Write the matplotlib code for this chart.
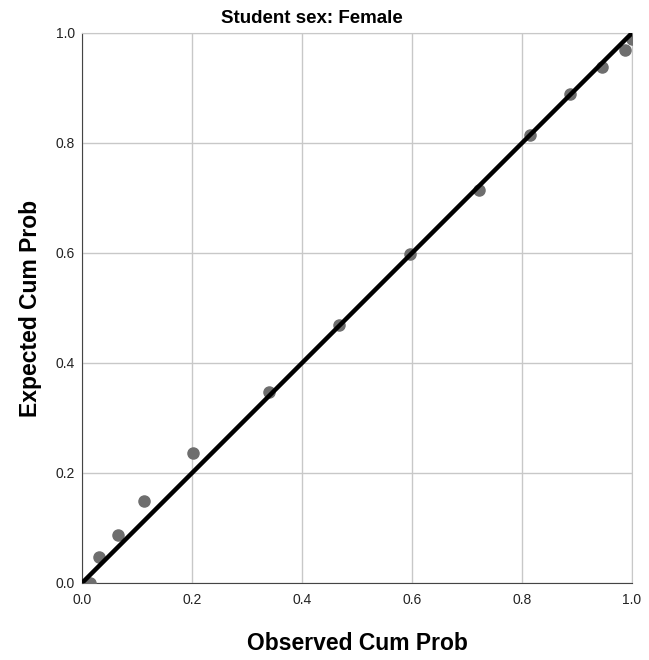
import matplotlib
matplotlib.use("Agg")
import matplotlib.pyplot as plt

plt.rcParams['font.family'] = ['Liberation Sans', 'DejaVu Sans']

# observed vs expected cumulative probabilities
observed = [0.015, 0.031, 0.066, 0.113, 0.201, 0.340, 0.468, 0.596,
            0.722, 0.815, 0.888, 0.946, 0.988, 1.000]
expected = [0.000, 0.048, 0.087, 0.150, 0.237, 0.347, 0.470, 0.598,
            0.715, 0.815, 0.889, 0.939, 0.970, 0.989]
ticks = [0.0, 0.2, 0.4, 0.6, 0.8, 1.0]
tick_labels = ["0.0", "0.2", "0.4", "0.6", "0.8", "1.0"]

fig = plt.figure(figsize=(6.49, 6.6), dpi=100)
ax = fig.add_axes([82 / 649, 77 / 660, 550 / 649, 550 / 660])

ax.plot(observed, expected, 'o', color='#6e6e6e', markersize=8, zorder=3)
ax.plot([0, 1], [0, 1], color='black', linewidth=3.2, zorder=4)

ax.set_xlim(0, 1)
ax.set_ylim(0, 1)
ax.set_xticks(ticks)
ax.set_xticklabels(tick_labels)
ax.set_yticks(ticks)
ax.set_yticklabels(tick_labels)
ax.tick_params(length=0, labelsize=10, colors='#222222')
ax.tick_params(axis='y', pad=5)
ax.tick_params(axis='x', pad=7)
ax.grid(True, color='#c8c8c8', linewidth=1)
ax.set_axisbelow(True)

for s in ['top', 'right']:
    ax.spines[s].set_color('#c8c8c8')
for s in ['left', 'bottom']:
    ax.spines[s].set_color('#444444')

# title sits left of the axes centre in the original
fig.text(312 / 649, 1 - 23 / 660, "Student sex: Female", fontsize=13.5,
         fontweight='bold', ha='center', va='baseline')
ax.set_xlabel("Observed Cum Prob", fontsize=16.5, fontweight='bold', labelpad=18)
ax.set_ylabel("Expected Cum Prob", fontsize=16.5, fontweight='bold', labelpad=10)

fig.savefig("out.png", dpi=100)
